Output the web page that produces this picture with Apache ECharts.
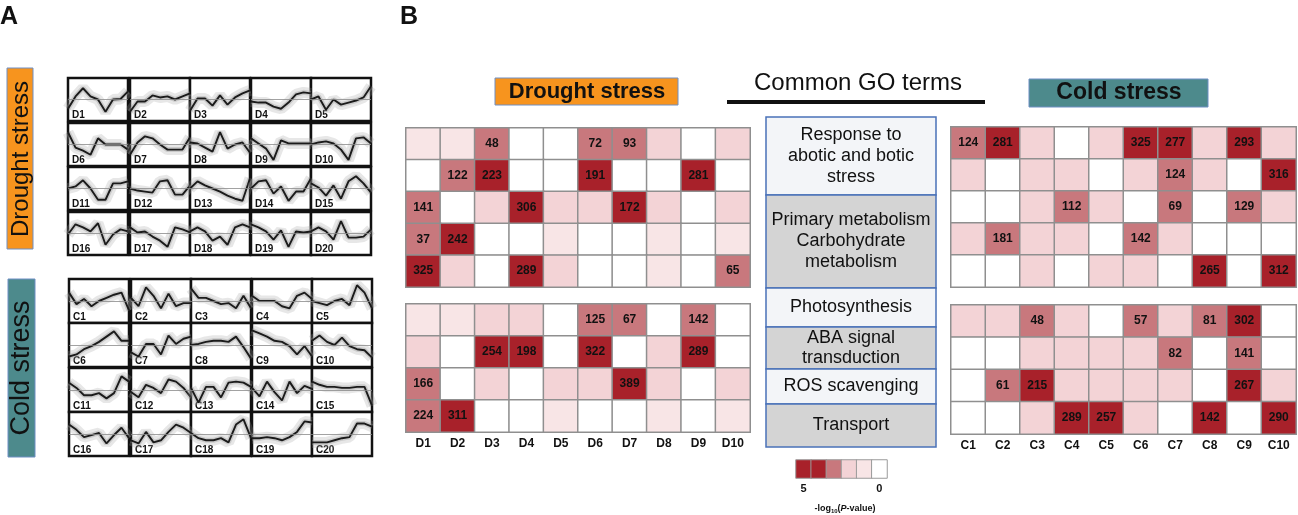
<!DOCTYPE html>
<html>
<head>
<meta charset="utf-8">
<script src="https://cdn.jsdelivr.net/npm/echarts@6/dist/echarts.min.js"></script>
<style>
  html, body { margin: 0; padding: 0; background: #fff; }
  #main { width: 1298px; height: 515px; }
</style>
</head>
<body>
<div id="main"></div>
<script>
// ---- panel A: cluster profiles (9 time points, mean line) ----
const timePoints = ['t1', 't2', 't3', 't4', 't5', 't6', 't7', 't8', 't9'];
const droughtNames = ['D1','D2','D3','D4','D5','D6','D7','D8','D9','D10',
                      'D11','D12','D13','D14','D15','D16','D17','D18','D19','D20'];
const coldNames = ['C1','C2','C3','C4','C5','C6','C7','C8','C9','C10',
                   'C11','C12','C13','C14','C15','C16','C17','C18','C19','C20'];
const droughtProfiles = [
  [-0.9, 0.3, 1.1, 0.3, 0, -1.2, 0, 0.05, 0.8],
  [-1.2, -0.2, -0.2, 0.4, 0.2, 0.3, 0, 0.3, 0.6],
  [-1.1, 0.1, 0.1, -0.6, 0.4, -0.5, 0.2, 0.6, 0.9],
  [-0.2, -0.3, -0.3, -0.7, -0.9, -0.3, 0.5, 0.7, 0.6],
  [0, 0.3, -1, 0, -0.5, -0.3, -0.1, 0.2, 1.3],
  [1.2, -0.3, -0.6, -1, 0.6, 0, 0, 0, -0.5],
  [-1, 0.2, 0.8, 0.6, 0, -0.5, -0.5, -0.5, 0.7],
  [0.2, 0.1, -0.3, -0.7, 1.2, -0.4, 0, 0.2, -0.8],
  [0.6, 0.1, -0.4, -1.5, 0.4, 0.1, 0.1, 0.1, 0.1],
  [0, 0.2, 0.3, 0.1, -0.5, -1.5, 0.6, 0.7, 0.1],
  [0, 0.2, 0.8, 0, -1.1, -1.1, 0.5, 0.5, 0.7],
  [0, -0.2, -0.3, -0.4, 0.7, 0.8, -0.6, -0.6, 0.3],
  [0, 0.7, 0.3, 0, -0.3, -0.7, -1, -1.2, 1],
  [0, 0.7, 0.8, -0.5, 0.2, -1.2, -0.3, -0.3, 1],
  [0.5, 0.1, -0.7, 0.3, -1, 0.7, 1.2, 0.5, -0.4],
  [-0.1, 0.9, 0.6, 0.2, 1, -1.1, -0.1, 0.4, 0.2],
  [0.6, 0.1, 0.2, -0.3, -0.7, -1.3, 0.6, 0.4, 0.1],
  [0.2, 0.6, 0.2, -0.7, -0.3, -1.1, 0.6, 0.9, 0.6],
  [0.9, 0.6, 0.2, -0.6, 0.3, -1.3, 0.2, 0.1, 0.2],
  [0.2, 0.6, 0.2, -0.6, 1.2, -0.4, -0.4, -0.3, 0.4]
];
const coldProfiles = [
  [0.8, -0.3, 0.2, -0.5, 0, 0.3, 0.6, 0.8, -0.9],
  [0.3, -0.5, 1.3, 0.5, -0.7, 0.7, -0.5, -0.2, -0.2],
  [1.2, 0.3, 0.3, 0, -0.3, -0.2, -0.7, 0.5, -0.7],
  [0.5, 0, 0, 0, -0.5, -0.7, 0.5, 0.8, 0.2],
  [0, -0.2, -0.4, 0, 0.2, -0.4, 1.5, 0.8, -0.7],
  [-1.1, -0.9, -0.4, -0.1, 0.3, 0.8, 1.3, 0.4, 0.4],
  [-0.7, -1.1, 0.1, 0.1, -0.9, 0.9, 0.1, 0.6, 0.8],
  [0, 0.1, 0.3, 0.4, 0.4, 0.3, 0.8, -0.2, -1.3],
  [1.4, 1.1, 0.8, 0.4, 0.3, -0.1, -0.9, -0.1, -1.1],
  [0.4, 0.9, 0.3, 0, 0.7, -0.1, -0.4, -0.5, -1.2],
  [0.7, 0.2, -0.5, -0.5, -0.3, -0.8, -0.3, 1.3, 0.8],
  [-0.2, -0.7, 0.5, 0.2, -0.3, 1, 0.8, 0.2, -0.7],
  [0.2, -1.2, 0.3, 0.3, -0.7, 0.7, 0.8, 0.7, 0.3],
  [0.2, -0.6, 0.8, -0.2, -1, 0.8, -0.3, 0.4, 0.1],
  [0.8, 0.5, 0.3, 0.3, 0.2, 0.2, 0.3, 0.3, -1.5],
  [0.9, 0.4, -0.3, -0.1, 0.1, -0.9, -0.1, 0.6, -0.4],
  [-0.6, -0.9, 0.2, -0.8, -0.6, 0.2, 0.9, 0.6, 0.1],
  [0.1, -0.4, -0.6, -0.6, -0.4, -0.8, 0.9, 1.4, -0.4],
  [-0.4, -0.4, -0.3, -0.4, -0.6, -0.3, 0.2, 1.2, 1.1],
  [-0.8, -0.8, -0.8, -0.6, -0.4, -0.3, 1, 1, 0.7]
];

// ---- panel B: GO enrichment heatmaps (level 0..4, gene counts) ----
const droughtCats = ['D1','D2','D3','D4','D5','D6','D7','D8','D9','D10'];
const coldCats = ['C1','C2','C3','C4','C5','C6','C7','C8','C9','C10'];
const droughtTopLevel = [
  [1,1,3,0,0,3,3,2,0,2],
  [0,3,4,0,0,4,0,0,4,0],
  [3,0,2,4,2,2,4,2,0,2],
  [3,4,0,0,1,0,0,1,0,1],
  [4,2,0,4,2,0,0,1,0,3]
];
const droughtTopCount = [
  [0,0,48,0,0,72,93,0,0,0],
  [0,122,223,0,0,191,0,0,281,0],
  [141,0,0,306,0,0,172,0,0,0],
  [37,242,0,0,0,0,0,0,0,0],
  [325,0,0,289,0,0,0,0,0,65]
];
const droughtBotLevel = [
  [1,1,2,2,0,3,3,0,3,0],
  [2,0,4,4,0,4,0,2,4,0],
  [3,0,2,0,2,2,4,2,0,2],
  [3,4,0,0,1,0,0,1,0,1]
];
const droughtBotCount = [
  [0,0,0,0,0,125,67,0,142,0],
  [0,0,254,198,0,322,0,0,289,0],
  [166,0,0,0,0,0,389,0,0,0],
  [224,311,0,0,0,0,0,0,0,0]
];
const coldTopLevel = [
  [3,4,2,0,2,4,4,2,4,2],
  [2,0,2,2,0,2,3,2,0,4],
  [0,0,2,3,2,0,3,0,3,2],
  [2,3,2,2,0,3,2,0,0,0],
  [0,0,2,0,2,2,0,4,0,4]
];
const coldTopCount = [
  [124,281,0,0,0,325,277,0,293,0],
  [0,0,0,0,0,0,124,0,0,316],
  [0,0,0,112,0,0,69,0,129,0],
  [0,181,0,0,0,142,0,0,0,0],
  [0,0,0,0,0,0,0,265,0,312]
];
const coldBotLevel = [
  [2,2,3,2,0,3,2,3,4,0],
  [0,0,2,2,2,2,3,0,3,0],
  [0,3,4,2,2,2,2,0,4,2],
  [0,0,2,4,4,2,0,4,0,4]
];
const coldBotCount = [
  [0,0,48,0,0,57,0,81,302,0],
  [0,0,0,0,0,0,82,0,141,0],
  [0,61,215,0,0,0,0,0,267,0],
  [0,0,0,289,257,0,0,142,0,290]
];
const legendLevels = [4, 4, 3, 2, 1, 0];
const legendTicks = ['5', '', '', '', '', '0'];
const goTerms = ['Response to\nabotic and botic\nstress', 'Primary metabolism\nCarbohydrate\nmetabolism',
                 'Photosynthesis', 'ABA signal\ntransduction', 'ROS scavenging', 'Transport'];

const levelColors = ['#ffffff', '#f8e5e6', '#f3d3d6', '#c8787d', '#a8212a'];
const orangeColor = '#f7941e',
      tealColor = '#4d8a8c',
      boxBorder = '#6f8fc4'
const baseFont = 'Arial, "Liberation Sans"'

const chart = echarts.init(document.getElementById('main'));
const grids = [], xAxes = [], yAxes = [], series = [], graphics = [];

// small profile charts
function addMini(profiles, names, colsX, rowsY, w, h) {
  profiles.forEach((vals, i) => {
    const r = Math.floor(i / 5), c = i % 5;
    const gi = grids.length;
    grids.push({ left: colsX[c], top: rowsY[r], width: w, height: h, show: true,
      backgroundColor: '#fff', borderColor: '#111', borderWidth: 2.5 });
    xAxes.push({ gridIndex: gi, type: 'category', data: timePoints, boundaryGap: false, show: false });
    yAxes.push({ gridIndex: gi, type: 'value', min: -2.1, max: 2.1, show: false });
    // gray spread of member genes
    series.push({ type: 'line', xAxisIndex: gi, yAxisIndex: gi, data: vals, symbol: 'none', silent: true,
      lineStyle: { color: 'rgba(160,160,160,0.25)', width: 11 },
      markLine: { silent: true, symbol: 'none', label: { show: false },
        lineStyle: { color: '#8a8a8a', width: 0.8, type: 'solid' }, data: [{ yAxis: 0 }] } });
    series.push({ type: 'line', xAxisIndex: gi, yAxisIndex: gi, data: vals, symbol: 'none', silent: true,
      lineStyle: { color: 'rgba(150,150,150,0.35)', width: 5 } });
    series.push({ type: 'line', xAxisIndex: gi, yAxisIndex: gi, data: vals, symbol: 'none', silent: true,
      lineStyle: { color: '#1b1b1b', width: 1.9 } });
    graphics.push({ type: 'text', x: colsX[c] + 4, y: rowsY[r] + h - 1,
      style: { text: names[i], font: 'bold 10px ' + baseFont, fill: '#111', verticalAlign: 'bottom' } });
  });
}
addMini(droughtProfiles, droughtNames, [68, 130, 190, 251, 311], [78, 123, 167, 212], 60, 43);
addMini(coldProfiles, coldNames, [69, 131, 191, 252, 312], [279, 323, 368, 412], 60, 44);

// heatmaps
const heatIndex = [];
function addHeat(levels, counts, cats, box, showLabels) {
  const gi = grids.length;
  grids.push({ left: box[0], top: box[1], width: box[2], height: box[3] });
  xAxes.push({ gridIndex: gi, type: 'category', data: cats, show: showLabels,
    axisLine: { show: false }, axisTick: { show: false },
    axisLabel: { fontWeight: 'bold', fontSize: 12, color: '#111', margin: 6, fontFamily: baseFont } });
  yAxes.push({ gridIndex: gi, type: 'category', data: levels.map((_, k) => k), inverse: true, show: false });
  const data = [];
  levels.forEach((row, y) => row.forEach((lv, x) => data.push([x, y, lv, counts[y][x]])));
  heatIndex.push(series.length);
  series.push({ type: 'heatmap', xAxisIndex: gi, yAxisIndex: gi, data: data, silent: true,
    itemStyle: { borderColor: '#8f8f8f', borderWidth: 1.5 },
    label: { show: true, color: '#111', fontWeight: 'bold', fontSize: 12, fontFamily: baseFont,
      formatter: p => p.value[3] ? String(p.value[3]) : '' } });
}
addHeat(droughtTopLevel, droughtTopCount, droughtCats, [406, 128, 344, 159], false);
addHeat(droughtBotLevel, droughtBotCount, droughtCats, [406, 304, 344, 128], true);
addHeat(coldTopLevel, coldTopCount, coldCats, [951, 127, 345, 160], false);
addHeat(coldBotLevel, coldBotCount, coldCats, [951, 305, 345, 129], true);

// colour key
(function () {
  const gi = grids.length;
  grids.push({ left: 796, top: 460, width: 91, height: 18 });
  xAxes.push({ gridIndex: gi, type: 'category', data: legendTicks, show: true,
    axisLine: { show: false }, axisTick: { show: false },
    axisLabel: { interval: 0, fontWeight: 'bold', fontSize: 11, color: '#111', margin: 5 } });
  yAxes.push({ gridIndex: gi, type: 'category', data: ['k'], show: false });
  heatIndex.push(series.length);
  series.push({ type: 'heatmap', xAxisIndex: gi, yAxisIndex: gi, silent: true,
    data: legendLevels.map((lv, x) => [x, 0, lv, 0]),
    itemStyle: { borderColor: '#9a9a9a', borderWidth: 1 } });
})();

// side labels and titles
graphics.push(
  { type: 'text', x: 0, y: 5, style: { text: 'A', font: 'bold 25px ' + baseFont, fill: '#111' } },
  { type: 'text', x: 400, y: 5, style: { text: 'B', font: 'bold 25px ' + baseFont, fill: '#111' } },
  { type: 'rect', shape: { x: 7, y: 68, width: 26, height: 181 },
    style: { fill: orangeColor, stroke: boxBorder, lineWidth: 1 } },
  { type: 'text', x: 21, y: 159, rotation: Math.PI / 2,
    style: { text: 'Drought stress', font: '24px ' + baseFont, fill: '#111', align: 'center', verticalAlign: 'middle' } },
  { type: 'rect', shape: { x: 8, y: 279, width: 27, height: 178 },
    style: { fill: tealColor, stroke: boxBorder, lineWidth: 1 } },
  { type: 'text', x: 22, y: 368, rotation: Math.PI / 2,
    style: { text: 'Cold stress', font: '27px ' + baseFont, fill: '#111', align: 'center', verticalAlign: 'middle' } },
  { type: 'rect', shape: { x: 495, y: 78, width: 183, height: 27 },
    style: { fill: orangeColor, stroke: boxBorder, lineWidth: 1 } },
  { type: 'text', x: 587, y: 92,
    style: { text: 'Drought stress', font: 'bold 22px ' + baseFont, fill: '#111', align: 'center', verticalAlign: 'middle' } },
  { type: 'rect', shape: { x: 1029, y: 79, width: 179, height: 28 },
    style: { fill: tealColor, stroke: boxBorder, lineWidth: 1 } },
  { type: 'text', x: 1119, y: 93,
    style: { text: 'Cold stress', font: 'bold 23px ' + baseFont, fill: '#111', align: 'center', verticalAlign: 'middle' } },
  { type: 'text', x: 858, y: 83,
    style: { text: 'Common GO terms', font: '24px ' + baseFont, fill: '#111', align: 'center', verticalAlign: 'middle' } },
  { type: 'line', shape: { x1: 727, y1: 102, x2: 985, y2: 102 }, style: { stroke: '#111', lineWidth: 4 } },
  { type: 'text', x: 845, y: 509,
    style: { rich: { a: { fontSize: 9, fontWeight: 'bold', fill: '#111' }, s: { fontSize: 6, fontWeight: 'bold', fill: '#111', padding: [5, 0, 0, 0] },
      i: { fontSize: 9, fontWeight: 'bold', fontStyle: 'italic', fill: '#111' } },
      text: '{a|-log}{s|10}{a|(}{i|P}{a|-value)}', align: 'center', verticalAlign: 'middle' } }
);

// GO term boxes
const goBounds = [117, 195, 288, 327, 369, 404, 447];
goTerms.forEach((t, k) => {
  const y0 = goBounds[k], y1 = goBounds[k + 1];
  graphics.push({ type: 'rect', shape: { x: 766, y: y0, width: 170, height: y1 - y0 },
    style: { fill: k % 2 === 0 ? '#f3f5f8' : '#d4d4d4', stroke: '#4a72b8', lineWidth: 1.5 } });
  graphics.push({ type: 'text', x: 851, y: (y0 + y1) / 2,
    style: { text: t, font: '18px ' + baseFont, lineHeight: k === 3 ? 20 : 21, fill: '#111', align: 'center', verticalAlign: 'middle' } });
});

chart.setOption({
  animation: false,
  backgroundColor: '#fff',
  grid: grids,
  xAxis: xAxes,
  yAxis: yAxes,
  visualMap: {
    type: 'piecewise', show: false, dimension: 2, seriesIndex: heatIndex,
    pieces: levelColors.map((c, k) => ({ value: k, color: c }))
  },
  series: series,
  graphic: graphics
});
</script>
</body>
</html>
